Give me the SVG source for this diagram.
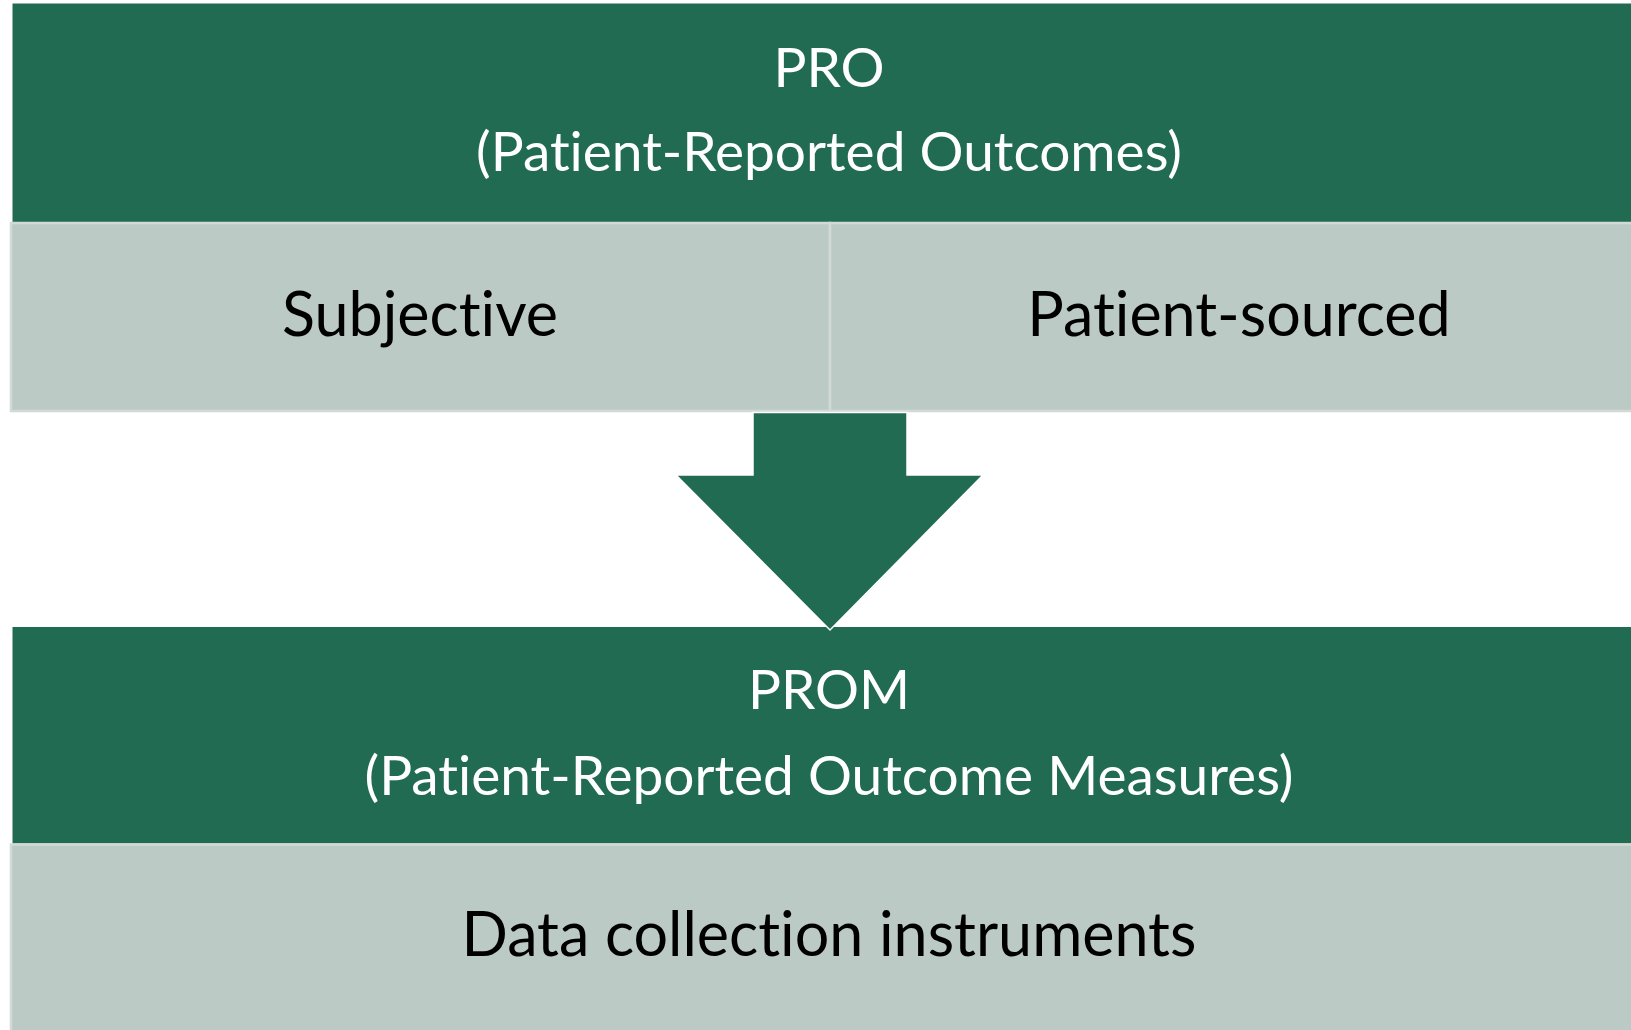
<svg xmlns="http://www.w3.org/2000/svg" width="1631" height="1030" viewBox="0 0 1631 1030">
<style>
.green{fill:#206b52}
.gray{fill:#bccac5;stroke:#d2dad6;stroke-width:2.5}
text{font-variant-ligatures:none;font-feature-settings:"liga" 0,"clig" 0}
.tw{font-family:Lato,"Open Sans","Liberation Sans",sans-serif;fill:#ffffff;font-size:55px;text-anchor:middle}
.tb{font-family:Lato,"Open Sans","Liberation Sans",sans-serif;fill:#000000;font-size:61px;text-anchor:middle}
</style>
<rect width="1631" height="1030" fill="#ffffff"/>
<g id="pro">
<rect class="green" x="12.5" y="3.5" width="1630" height="218.5"/>
<text class="tw" x="829" y="87">PRO</text>
<text class="tw" x="829" y="171">(Patient-Reported Outcomes)</text>
</g>
<g id="subjective">
<rect class="gray" x="11" y="223" width="819" height="188"/>
<text class="tb" x="420" y="336">Subjective</text>
</g>
<g id="patient-sourced">
<rect class="gray" x="830" y="223" width="810" height="188"/>
<text class="tb" x="1239" y="336">Patient-sourced</text>
</g>
<g id="prom">
<rect class="green" x="12.5" y="627" width="1630" height="216.5"/>
<text class="tw" x="829" y="709">PROM</text>
<text class="tw" x="829" y="795">(Patient-Reported Outcome Measures)</text>
</g>
<g id="instruments">
<rect class="gray" x="11" y="844.5" width="1630" height="200"/>
<text class="tb" x="829" y="956">Data collection instruments</text>
</g>
<g id="connectors">
<polygon class="green" points="753,412.5 907,412.5 907,475 983,475 830,630 676,475 753,475" stroke="#ffffff" stroke-width="1.5" stroke-linejoin="miter"/>
</g>
</svg>
